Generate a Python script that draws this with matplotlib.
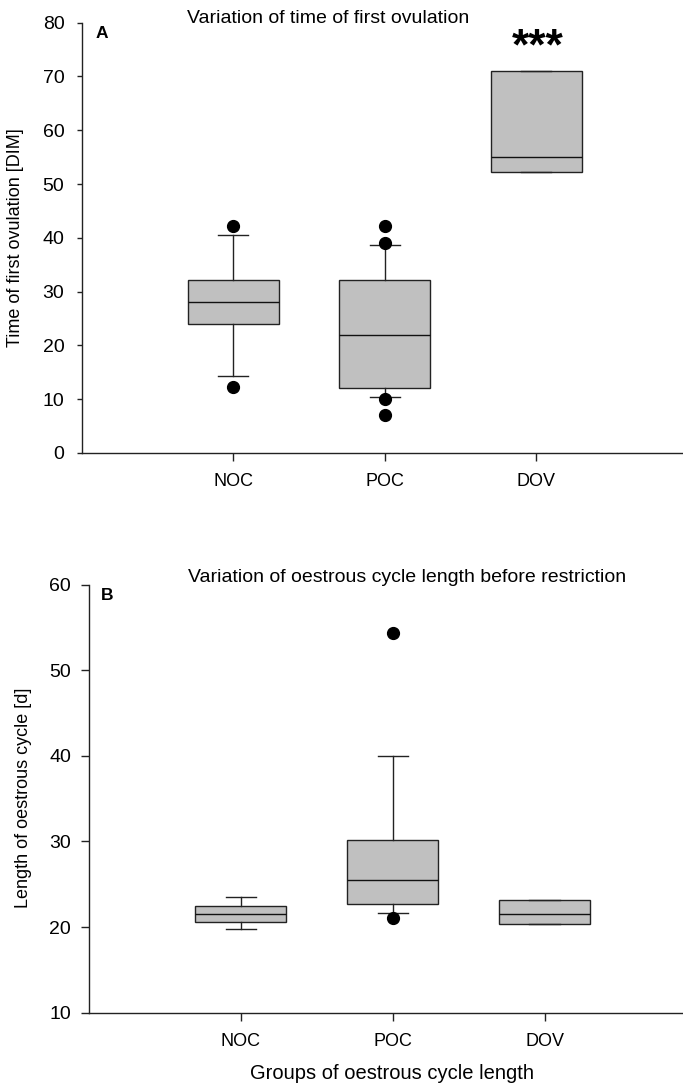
import matplotlib
matplotlib.use('Agg')
import matplotlib.pyplot as plt

plt.rcParams['font.family'] = ['Liberation Sans', 'DejaVu Sans']

groups = ['NOC', 'POC', 'DOV']

# panel A: time of first ovulation [DIM]
ov_med = [28.0, 22.0, 55.0]
ov_q1 = [23.9, 12.0, 52.2]
ov_q3 = [32.1, 32.1, 71.0]
ov_lo = [14.3, 10.4, 52.2]
ov_hi = [40.5, 38.6, 71.0]
ov_out = [[42.2, 12.2], [42.2, 39.1, 10.1, 7.1], []]

# panel B: oestrous cycle length before restriction [d]
cy_med = [21.5, 25.5, 21.5]
cy_q1 = [20.56, 22.7, 20.4]
cy_q3 = [22.5, 30.2, 23.2]
cy_lo = [19.8, 21.65, 20.4]
cy_hi = [23.5, 40.0, 23.2]
cy_out = [[], [54.3, 21.1], []]


def make_stats(med, q1, q3, lo, hi, out):
    stats = []
    for i in range(len(groups)):
        stats.append({'med': med[i], 'q1': q1[i], 'q3': q3[i],
                      'whislo': lo[i], 'whishi': hi[i],
                      'fliers': out[i], 'label': groups[i]})
    return stats


def draw_box(ax, stats):
    ax.bxp(stats, positions=[1, 2, 3], widths=0.6, patch_artist=True,
           boxprops=dict(facecolor='#c0c0c0', edgecolor='#222222', linewidth=1.0),
           medianprops=dict(color='#111111', linewidth=1.0),
           whiskerprops=dict(color='#222222', linewidth=1.0),
           capprops=dict(color='#222222', linewidth=1.0),
           capwidths=0.2,
           flierprops=dict(marker='o', markerfacecolor='black', markeredgecolor='black',
                           markersize=8.5, linestyle='none'))
    for s in ['top', 'right']:
        ax.spines[s].set_visible(False)
    for s in ['left', 'bottom']:
        ax.spines[s].set_linewidth(1.0)
        ax.spines[s].set_color('#222222')
    ax.set_xticks([1, 2, 3])
    ax.set_xticklabels(groups, fontsize=13)
    ax.tick_params(axis='x', direction='out', length=5.8, width=1.0, pad=8.5, color='#222222')


fig = plt.figure(figsize=(6.83, 10.87), dpi=100)

axA = fig.add_axes([0.1200, 0.5834, 0.8800, 0.3957])
draw_box(axA, make_stats(ov_med, ov_q1, ov_q3, ov_lo, ov_hi, ov_out))
axA.set_xlim(0, 3.97)
axA.set_ylim(0, 80)
axA.set_yticks(range(0, 81, 10))
axA.tick_params(axis='y', direction='out', length=3.6, width=1.0, pad=9, labelsize=14, color='#222222')
axA.text(3.01, 73.2, '***', ha='center', va='baseline', fontsize=32, fontweight='bold')
fig.text(327.8 / 683, 1 - 18.5 / 1087, 'Variation of time of first ovulation',
         ha='center', va='center', fontsize=14)
fig.text(101.7 / 683, 1 - 33.3 / 1087, 'A', ha='center', va='center', fontsize=12.5, fontweight='bold')
fig.text(16 / 683, 1 - 238 / 1087, 'Time of first ovulation [DIM]', rotation=90,
         ha='center', va='center', fontsize=13)

axB = fig.add_axes([0.1299, 0.0684, 0.8701, 0.3937])
draw_box(axB, make_stats(cy_med, cy_q1, cy_q3, cy_lo, cy_hi, cy_out))
axB.set_xlim(0, 3.91)
axB.set_ylim(10, 60)
axB.set_yticks(range(10, 61, 10))
axB.tick_params(axis='y', direction='out', length=5.8, width=1.0, pad=7, labelsize=14, color='#222222')
fig.text(406.6 / 683, 1 - 577 / 1087, 'Variation of oestrous cycle length before restriction',
         ha='center', va='center', fontsize=14)
fig.text(106.7 / 683, 1 - 596 / 1087, 'B', ha='center', va='center', fontsize=12.5, fontweight='bold')
fig.text(24 / 683, 1 - 798 / 1087, 'Length of oestrous cycle [d]', rotation=90,
         ha='center', va='center', fontsize=13)
fig.text(392 / 683, 1 - 1073.6 / 1087, 'Groups of oestrous cycle length',
         ha='center', va='center', fontsize=14.5)

fig.savefig('out.png', dpi=100)
